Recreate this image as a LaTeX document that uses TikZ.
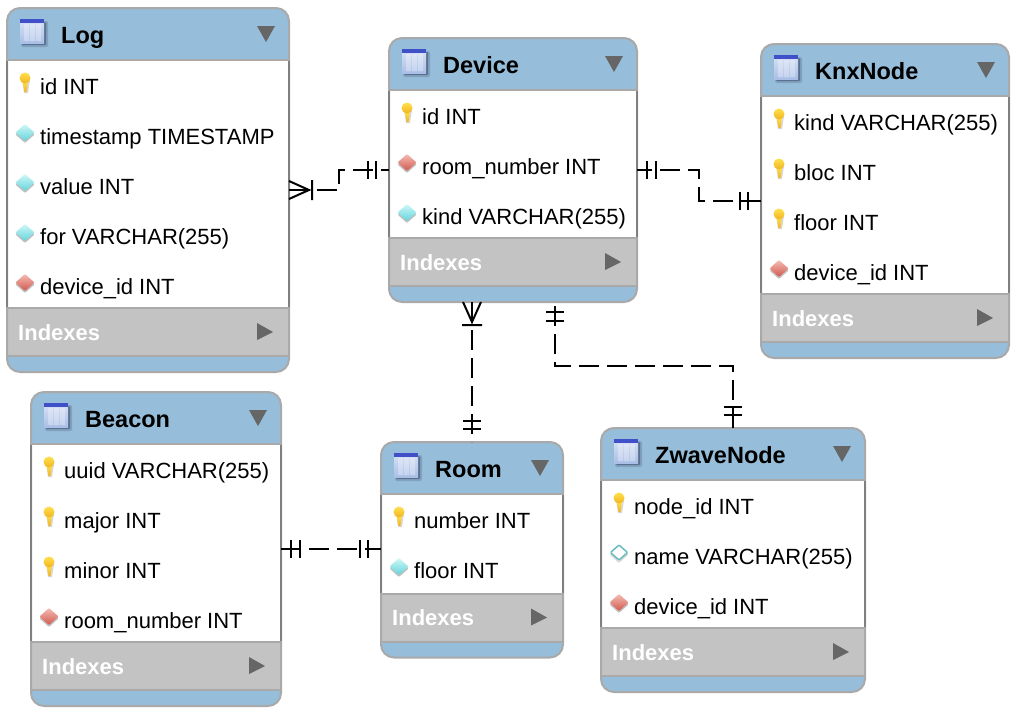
\documentclass[tikz,border=0pt]{standalone}
\usepackage{fontspec}
\setmainfont{Liberation Sans}
\usetikzlibrary{calc}

\definecolor{headblue}{HTML}{96BDD9}
\definecolor{bandgrey}{HTML}{C3C3C3}
\definecolor{edgegrey}{HTML}{A9A9A9}
\definecolor{sidegrey}{HTML}{808080}
\definecolor{arrowgrey}{HTML}{666666}
\definecolor{iconshadow}{HTML}{5A7090}
\definecolor{iconbar}{HTML}{4050C8}
\definecolor{icontop}{HTML}{D5DFF3}
\definecolor{iconbottom}{HTML}{A9BEE6}
\definecolor{keytop}{HTML}{FFE14D}
\definecolor{keybottom}{HTML}{F2B320}
\definecolor{attrtop}{HTML}{D0F8F8}
\definecolor{attrbottom}{HTML}{62D4DA}
\definecolor{fktop}{HTML}{F4BDB4}
\definecolor{fkbottom}{HTML}{D2584E}

% #1 name, #2 left, #3 top, #4 width, #5 height of rows, #6 title, #7 kind/text list
\newcommand{\entity}[7]{
  \pgfmathsetmacro{\bandtop}{#3+52+#5}
  \pgfmathsetmacro{\boxheight}{116+#5}
  \begin{scope}
    \clip[rounded corners=13pt] (#2,#3) rectangle ++(#4,\boxheight);
    \fill[white] (#2,#3) rectangle ++(#4,\boxheight);
    \fill[headblue] (#2,#3) rectangle ++(#4,52);
    \fill[bandgrey] (#2,\bandtop) rectangle ++(#4,48);
    \fill[headblue] (#2,\bandtop+48) rectangle ++(#4,16);
    \draw[divider] (#2,#3+52) -- ++(#4,0);
    \draw[divider] (#2,\bandtop) -- ++(#4,0);
    \draw[divider] (#2,\bandtop+48) -- ++(#4,0);
  \end{scope}
  \node[entitybox, minimum width=#4pt, minimum height=\boxheight pt] (#1) at (#2,#3) {};
  \draw[sideline] (#2,#3+53) -- ++(0,#5-2);
  \draw[sideline] (#2+#4,#3+53) -- ++(0,#5-2);
  \pic at (#2+13,#3+11) {tableicon};
  \node[titletext] (#1title) at (#2+54,#3+35) {#6};
  \fill[arrowgrey] (#2+#4-32,#3+18) -- ++(18,0) -- ++(-9,16) -- cycle;
  \foreach \kind/\txt [count=\rownum] in {#7} {
    \pgfmathsetmacro{\rowy}{#3+28+50*\rownum}
    \pic at (#2+18,\rowy) {\kind};
    \node[rowtext] (#1row\rownum) at (#2+33,\rowy+8) {\txt};
  }
  \node[indextext] (#1index) at (#2+11,\bandtop+32) {Indexes};
  \fill[arrowgrey] (#2+#4-32,\bandtop+15) -- ++(16,9) -- ++(-16,8) -- cycle;
}

\begin{document}
\begin{tikzpicture}[
  x=1pt, y=-1pt,
  entitybox/.style={rectangle, draw=edgegrey, line width=2pt, rounded corners=13pt,
    anchor=north west, inner sep=0pt, outer sep=0pt},
  divider/.style={edgegrey, line width=2pt},
  sideline/.style={sidegrey, line width=2pt},
  titletext/.style={anchor=base west, inner sep=0pt, font=\fontsize{23.5}{28}\selectfont\bfseries},
  rowtext/.style={anchor=base west, inner sep=0pt, font=\fontsize{22}{26}\selectfont},
  indextext/.style={anchor=base west, inner sep=0pt, white, font=\fontsize{22}{26}\selectfont\bfseries},
  rel/.style={black, line width=2pt, dash pattern=on 20pt off 8pt},
  relmark/.style={black, line width=2pt},
  tableicon/.pic={
    \fill[iconshadow, opacity=.35, rounded corners=2pt] (1,2) rectangle (28,28);
    \fill[iconshadow, rounded corners=1pt] (2,3) rectangle (26,26);
    \shade[top color=icontop, bottom color=iconbottom] (0,2) rectangle (24,24.5);
    \fill[white, opacity=.3] (4,5) rectangle (9,22) (10,5) rectangle (15,22) (16,5) rectangle (21,22);
    \fill[iconbar] (0,0) rectangle (24,3.5);
  },
  keyicon/.pic={
    \fill[black!15] (-3,-6) -- (5,-6) -- (3,7) -- (-1,7) -- cycle;
    \shade[top color=keytop, bottom color=keybottom]
      (-2.5,-5) -- (3,-5) -- (1.5,6) -- (-0.5,6) -- cycle;
    \shade[top color=keytop, bottom color=keybottom]
      (0,-8) ellipse (5.5 and 5.5);
  },
  attricon/.pic={
    \fill[black!25, rounded corners=1pt] (-9.5,-1.5) -- (0,-10) -- (9.5,-1.5) -- (0,7) -- cycle;
    \shade[top color=attrtop, bottom color=attrbottom, rounded corners=1pt]
      (-9.5,-3.5) -- (0,-12) -- (9.5,-3.5) -- (0,5) -- cycle;
  },
  fkicon/.pic={
    \fill[black!25, rounded corners=1pt] (-9.5,-1.5) -- (0,-10) -- (9.5,-1.5) -- (0,7) -- cycle;
    \shade[top color=fktop, bottom color=fkbottom, rounded corners=1pt]
      (-9.5,-3.5) -- (0,-12) -- (9.5,-3.5) -- (0,5) -- cycle;
  },
  nullicon/.pic={
    \fill[black!15, rounded corners=1pt] (-9.5,-1.5) -- (0,-10) -- (9.5,-1.5) -- (0,7) -- cycle;
    \filldraw[fill=white, draw=attrbottom!70!gray, line width=1.5pt, rounded corners=1pt]
      (-8.5,-3.5) -- (0,-11) -- (8.5,-3.5) -- (0,4) -- cycle;
  },
  onestart/.pic={\draw[relmark] (10,-9) -- (10,9) (19,-9) -- (19,9);},
  oneend/.pic={\draw[relmark] (13,-9) -- (13,9) (21,-9) -- (21,9);},
  crowfoot/.pic={\draw[relmark] (0,-9) -- (20,0) -- (0,9) (23,-10) -- (23,10);},
]
\useasboundingbox (0,0) rectangle (1019,715);

% Tables
\entity{log}{7}{8}{282}{248}{Log}{keyicon/id INT, attricon/timestamp TIMESTAMP, attricon/value INT, attricon/for VARCHAR(255), fkicon/device\_id INT}
\entity{device}{389}{38}{248}{148}{Device}{keyicon/id INT, fkicon/room\_number INT, attricon/kind VARCHAR(255)}
\entity{knx}{761}{44}{248}{198}{KnxNode}{keyicon/kind VARCHAR(255), keyicon/bloc INT, keyicon/floor INT, fkicon/device\_id INT}
\entity{beacon}{31}{392}{250}{198}{Beacon}{keyicon/uuid VARCHAR(255), keyicon/major INT, keyicon/minor INT, fkicon/room\_number INT}
\entity{room}{381}{442}{182}{99.5}{Room}{keyicon/number INT, attricon/floor INT}
\entity{zwave}{601}{428}{264}{148}{ZwaveNode}{keyicon/node\_id INT, nullicon/name VARCHAR(255), fkicon/device\_id INT}

\coordinate (devroom) at (device.south -| room.north);
\coordinate (devzwave) at ($(device.south)+(42,0)$);
\coordinate (roomside) at (beacon.east -| room.west);

% Relations
\draw[rel] (log.east) -- ++(50,0) |- (device.west);
\draw[rel] (knx.west) -- ++(-62,0) |- (device.east);
\draw[rel] (devroom) -- (room.north);
\draw[rel] (zwave.north) -- ++(0,-62) -| (devzwave);
\draw[rel] (beacon.east) -- (roomside);

% Line ends
\pic at (log.east) {crowfoot};
\pic[rotate=180] at (device.west) {oneend};
\pic at (device.east) {onestart};
\pic[rotate=180] at (knx.west) {oneend};
\pic[rotate=-90] at (devroom) {crowfoot};
\pic[rotate=90] at (room.north) {oneend};
\pic[rotate=-90] at (devzwave) {onestart};
\pic[rotate=90] at (zwave.north) {oneend};
\pic at (beacon.east) {onestart};
\pic[rotate=180] at (roomside) {oneend};

\end{tikzpicture}
\end{document}
